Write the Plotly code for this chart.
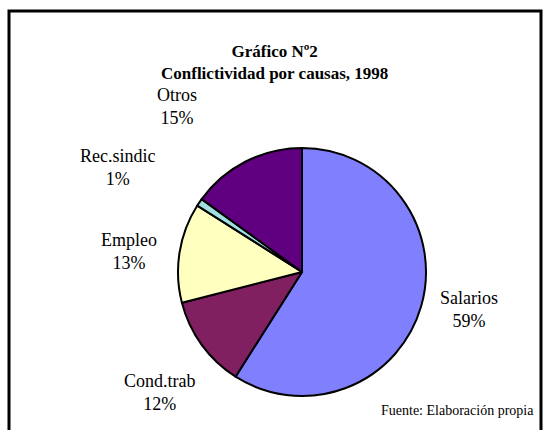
import plotly.graph_objects as go

# Data
categories = ["Salarios", "Cond.trab", "Empleo", "Rec.sindic", "Otros"]
values = [59, 12, 13, 1, 15]
colors = ["#8080FF", "#802060", "#FFFFC0", "#A0E0E0", "#600080"]

W, H = 548, 430
FONT = "Liberation Serif, Times New Roman, serif"

# pie geometry (pixels)
cx, cy, r = 302, 272, 124

fig = go.Figure(go.Pie(
    labels=categories,
    values=values,
    sort=False,
    direction="clockwise",
    rotation=0,
    marker=dict(colors=colors, line=dict(color="black", width=2)),
    textinfo="none",
    hoverinfo="label+percent",
    showlegend=False,
    domain=dict(x=[(cx - r) / W, (cx + r) / W], y=[(H - cy - r) / H, (H - cy + r) / H]),
))

# label positions (pixels, label centre)
label_pos = {
    "Salarios": (469, 309),
    "Cond.trab": (160, 392),
    "Empleo": (129, 251),
    "Rec.sindic": (118, 168),
    "Otros": (177, 106),
}
total = sum(values)
for cat, v in zip(categories, values):
    px, py = label_pos[cat]
    fig.add_annotation(
        x=px / W, y=1 - py / H, xref="paper", yref="paper",
        text=f"{cat}<br>{round(100 * v / total)}%",
        showarrow=False, xanchor="center", yanchor="middle",
        font=dict(family=FONT, size=18, color="black"),
    )

# title
fig.add_annotation(
    x=274 / W, y=1 - 63 / H, xref="paper", yref="paper",
    text="<b>Gráfico Nº2</b><br><b>Conflictividad por causas, 1998</b>",
    showarrow=False, xanchor="center", yanchor="middle",
    font=dict(family=FONT, size=17, color="black"),
)

# source
fig.add_annotation(
    x=536 / W, y=1 - 410 / H, xref="paper", yref="paper",
    text="Fuente: Elaboración propia",
    showarrow=False, xanchor="right", yanchor="middle",
    font=dict(family=FONT, size=14, color="black"),
)

# frame
fig.add_shape(type="rect", xref="paper", yref="paper",
              x0=9 / W, x1=541 / W, y0=-0.1, y1=1 - 11 / H,
              line=dict(color="black", width=3), fillcolor="rgba(0,0,0,0)")

fig.update_layout(
    width=W, height=H,
    margin=dict(l=0, r=0, t=0, b=0),
    paper_bgcolor="white", plot_bgcolor="white",
)

fig.write_html("out.html", config={"displayModeBar": False},
               post_script="document.body.style.margin='0';")
